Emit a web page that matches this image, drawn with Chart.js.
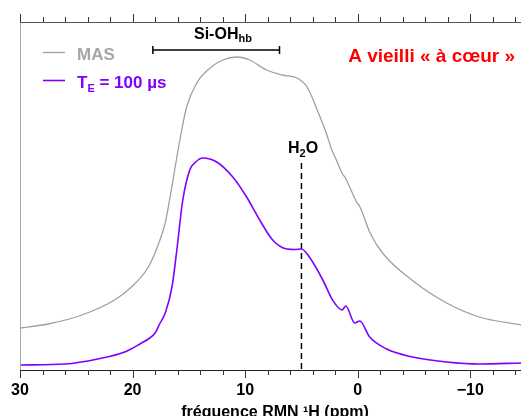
<!DOCTYPE html>
<html>
<head>
<meta charset="utf-8">
<script src="https://cdn.jsdelivr.net/npm/chart.js@4"></script>
<style>
  html, body { margin: 0; padding: 0; background: #fff; overflow: hidden; }
  #wrap { width: 521px; height: 416px; }
  canvas { display: block; }
</style>
</head>
<body>
<div id="wrap"><canvas id="chartCanvas" width="521" height="416"></canvas></div>
<script>
// deplacement chimique (ppm) et intensite (u.a.)
const ppmMAS = [30, 27.5, 24.5, 21.6, 20.1, 18.6, 17.8, 17.1, 16.7, 15.8, 15.2, 14.3, 13.1, 12.0, 10.7, 9.6, 8.1, 6.7, 5.4, 4.5, 3.6, 2.8, 2.3, 1.9, 1.4, 1.1, 0.1, -0.2, -1.1, -2.2, -4.8, -7.9, -10.8, -14.5];
const intMAS = [42, 46, 55, 70, 83, 103, 123, 147, 171, 230, 263, 287, 302, 310, 313, 310, 300, 295, 292, 283, 260, 237, 220, 210, 197, 192, 168, 163, 137, 117, 90, 67, 53, 45];

const ppmTE = [30, 26, 23.1, 20.7, 19.2, 18.6, 18.0, 17.6, 17.1, 16.5, 16.07, 15.54, 14.92, 14.4, 13.77, 12.53, 11.1, 9.87, 8.71, 7.56, 6.3, 5.6, 5.0, 4.3, 3.1, 2.24, 1.4, 1.06, 0.27, -0.18, -1.06, -2.57, -4.86, -7.88, -10.8, -14.5];
const intTE = [5, 6, 11, 18, 27, 31, 37, 46, 57, 83, 120, 170, 200, 208, 212, 208, 193, 173, 150, 130, 121, 120.5, 121, 113, 90, 70, 60, 64, 47, 49, 33, 21, 13, 8, 6, 7];

// annotations
const siohPpm = [18.2, 6.95];
const siohInt = [320, 320];
const h2oPpm = [5.0, 5.0];
const h2oInt = [207, 0];

const xTicks = [30, 20, 10, 0, -10];

function pts(xs, ys) {
    return xs.map((x, i) => ({ x: x, y: ys[i] }));
}

const FONT = "'Liberation Sans', Arial, sans-serif";
Chart.defaults.font.family = FONT;

const decor = {
    id: 'decor',
    afterDraw(chart) {
        const c = chart.ctx;
        const xs = chart.scales.x;
        const a = chart.chartArea;
        c.save();
        // cadre gauche et haut
        c.lineWidth = 1;
        c.strokeStyle = '#a8a8a8';
        c.beginPath();
        c.moveTo(a.left + 0.5, a.top);
        c.lineTo(a.left + 0.5, a.bottom);
        c.stroke();
        c.strokeStyle = '#555';
        c.beginPath();
        c.moveTo(a.left, a.top + 0.5);
        c.lineTo(a.right, a.top + 0.5);
        c.stroke();
        // graduations haut et bas
        c.strokeStyle = '#333';
        for (let v = -14; v <= 30; v += 2) {
            const px = Math.round(xs.getPixelForValue(v)) + 0.5;
            const len = (v % 10 === 0) ? 8 : 5;
            c.beginPath();
            c.moveTo(px, a.bottom);
            c.lineTo(px, a.bottom + len);
            c.moveTo(px, a.top);
            c.lineTo(px, a.top - len);
            c.stroke();
        }
        // legende
        c.lineWidth = 1.3;
        c.strokeStyle = '#a0a0a0';
        c.beginPath(); c.moveTo(43, 52.5); c.lineTo(65, 52.5); c.stroke();
        c.strokeStyle = '#7f00ff';
        c.lineWidth = 1.6;
        c.beginPath(); c.moveTo(43, 80.5); c.lineTo(65, 80.5); c.stroke();
        c.textBaseline = 'alphabetic';
        c.textAlign = 'left';
        c.font = 'bold 17px ' + FONT;
        c.fillStyle = '#a6a6a6';
        c.fillText('MAS', 77, 60);
        c.fillStyle = '#7f00ff';
        c.fillText('T', 77, 88);
        let w = c.measureText('T').width;
        c.font = 'bold 11px ' + FONT;
        c.fillText('E', 77 + w, 92);
        w += c.measureText('E').width;
        c.font = 'bold 17px ' + FONT;
        c.fillText(' = 100 µs', 77 + w, 88);
        // Si-OHhb
        c.fillStyle = '#000';
        c.font = 'bold 16px ' + FONT;
        c.fillText('Si-OH', 194, 39);
        const w2 = c.measureText('Si-OH').width;
        c.font = 'bold 11px ' + FONT;
        c.fillText('hb', 194 + w2, 42);
        // H2O
        c.font = 'bold 16px ' + FONT;
        c.fillText('H', 288, 153);
        const wh = c.measureText('H').width;
        c.font = 'bold 11px ' + FONT;
        c.fillText('2', 288 + wh, 157);
        const w2o = c.measureText('2').width;
        c.font = 'bold 16px ' + FONT;
        c.fillText('O', 288 + wh + w2o, 153);
        // titre echantillon
        c.fillStyle = '#ff0000';
        c.font = 'bold 19px ' + FONT;
        c.textAlign = 'right';
        c.fillText('A vieilli « à cœur »', 515, 62);
        // titre axe
        c.fillStyle = '#000';
        c.textAlign = 'center';
        c.font = 'bold 16px ' + FONT;
        c.fillText('fréquence RMN ¹H (ppm)', 275, 417);
        c.restore();
    }
};

const ctx = document.getElementById('chartCanvas').getContext('2d');
const chartCanvas = new Chart(ctx, {
    type: 'line',
    data: {
        datasets: [{
            label: 'MAS',
            data: pts(ppmMAS, intMAS),
            borderColor: '#a0a0a0',
            borderWidth: 1.3,
            pointRadius: 0,
            cubicInterpolationMode: 'monotone'
        }, {
            label: 'TE = 100 µs',
            data: pts(ppmTE, intTE),
            borderColor: '#7f00ff',
            borderWidth: 1.6,
            pointRadius: 0,
            cubicInterpolationMode: 'monotone'
        }, {
            label: 'Si-OHhb',
            data: pts(siohPpm, siohInt),
            borderColor: '#000',
            borderWidth: 1.5,
            pointStyle: 'line',
            rotation: 90,
            pointRadius: 4,
            pointBorderWidth: 1.5,
            pointBorderColor: '#000'
        }, {
            label: 'H2O',
            data: pts(h2oPpm, h2oInt),
            borderColor: '#000',
            borderWidth: 1.5,
            borderDash: [6, 4],
            pointRadius: 0
        }]
    },
    options: {
        responsive: false,
        maintainAspectRatio: false,
        animation: false,
        layout: { autoPadding: false, padding: { left: 20, top: 22, right: 0, bottom: 0 } },
        scales: {
            x: {
                type: 'linear',
                reverse: true,
                min: -14.5,
                max: 30,
                afterFit: (scale) => {
                    scale.height = 46;
                    scale.paddingLeft = 0;
                    scale.paddingRight = 0;
                },
                grid: { display: false },
                border: { display: true, color: '#222', width: 1 },
                ticks: {
                    stepSize: 2,
                    includeBounds: false,
                    autoSkip: false,
                    maxRotation: 0,
                    padding: 3,
                    color: '#000',
                    font: { size: 16, weight: 'bold' },
                    callback: (v) => xTicks.includes(v) ? (v < 0 ? '\u2212' + Math.abs(v) : String(v)) : ''
                }
            },
            y: {
                display: false,
                min: 0,
                max: 348
            }
        },
        plugins: {
            legend: { display: false },
            tooltip: { enabled: false }
        }
    },
    plugins: [decor]
});
</script>
</body>
</html>
